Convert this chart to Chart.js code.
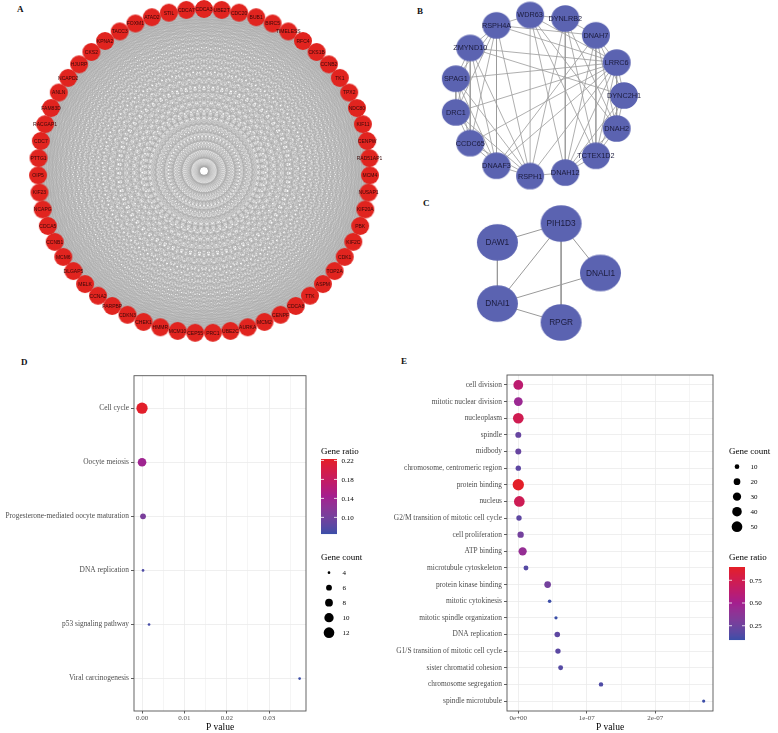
<!DOCTYPE html>
<html>
<head>
<meta charset="utf-8">
<script src="https://cdn.jsdelivr.net/npm/chart.js@4.4.1/dist/chart.umd.min.js"></script>
<style>
  body { margin: 0; background: #fff; width: 778px; height: 733px; position: relative; overflow: hidden; }
  canvas { position: absolute; }
  .tag { position: absolute; font: bold 9px "Liberation Serif", serif; line-height: 10px; color: #111; }
</style>
</head>
<body>
<div class="tag" style="left:17px;top:4px">A</div>
<div class="tag" style="left:417px;top:6px">B</div>
<div class="tag" style="left:423px;top:198px">C</div>
<div class="tag" style="left:21px;top:357px">D</div>
<div class="tag" style="left:401px;top:356px">E</div>

<canvas id="netA" width="410" height="350" style="left:0;top:0"></canvas>
<canvas id="netB" width="240" height="195" style="left:410px;top:0"></canvas>
<canvas id="netC" width="240" height="160" style="left:410px;top:195px"></canvas>
<canvas id="dotD" width="390" height="373" style="left:0;top:360px"></canvas>
<canvas id="dotE" width="388" height="373" style="left:390px;top:360px"></canvas>

<script>
// ---- A: hub genes, clockwise from the top ----
const genesA = ['CDCA3','UBE2T','CDC20','BUB1','BIRC5','TIMELESS','RFC4','CKS1B','CCNB2','TK1',
  'TPX2','NDC80','KIF11','CENPW','RAD51AP1','MCM4','NUSAP1','KIF20A','PBK','KIF2C',
  'CDK1','TOP2A','ASPM','TTK','CDCA8','CENPF','MCM2','AURKA','UBE2C','PRC1',
  'CEP55','MCM10','HMMR','CHEK1','CDKN3','PARPBP','CCNA2','MELK','DLGAP5','MCM6',
  'CCNB1','CDCA5','NCAPG','KIF23','OIP5','PTTG1','CDC7','RACGAP1','FAM83D','ANLN',
  'NCAPD2','HJURP','CKS2','KPNA2','TACC3','FOXM1','ATAD2','STIL','CDCA7'];
// every hub gene interacts with every other one
const edgesA = [];
genesA.forEach((p, i) => genesA.slice(i + 1).forEach(q => edgesA.push([p, q])));

// ---- B: cilia module ----
const genesB = ['WDR63','DYNLRB2','DNAH7','LRRC6','DYNC2H1','DNAH2','TCTEX1D2','DNAH12',
  'RSPH1','DNAAF3','CCDC65','DRC1','SPAG1','ZMYND10','RSPH4A'];
const edgesB = [
  ['RSPH4A','ZMYND10'],['RSPH4A','SPAG1'],['RSPH4A','DRC1'],['RSPH4A','CCDC65'],['RSPH4A','DNAAF3'],
  ['RSPH4A','RSPH1'],['RSPH4A','LRRC6'],['RSPH4A','DNAH7'],['RSPH4A','WDR63'],
  ['ZMYND10','SPAG1'],['ZMYND10','DRC1'],['ZMYND10','CCDC65'],['ZMYND10','DNAAF3'],['ZMYND10','RSPH1'],
  ['ZMYND10','LRRC6'],['ZMYND10','DYNC2H1'],
  ['SPAG1','DRC1'],['SPAG1','CCDC65'],['SPAG1','DNAAF3'],['SPAG1','RSPH1'],['SPAG1','LRRC6'],
  ['DRC1','CCDC65'],['DRC1','DNAAF3'],['DRC1','RSPH1'],['DRC1','LRRC6'],
  ['CCDC65','DNAAF3'],['CCDC65','RSPH1'],['CCDC65','LRRC6'],
  ['DNAAF3','RSPH1'],['DNAAF3','LRRC6'],['DNAAF3','DNAH7'],
  ['RSPH1','LRRC6'],['RSPH1','DNAH12'],['RSPH1','WDR63'],['RSPH1','DYNLRB2'],
  ['WDR63','DYNLRB2'],['WDR63','DNAH12'],['WDR63','TCTEX1D2'],['WDR63','DNAH2'],['WDR63','LRRC6'],
  ['DYNLRB2','DNAH12'],['DYNLRB2','TCTEX1D2'],['DYNLRB2','DNAH2'],['DYNLRB2','DNAH7'],
  ['DNAH7','LRRC6'],['DNAH7','DYNC2H1'],['DNAH7','DNAH2'],['DNAH7','TCTEX1D2'],['DNAH7','DNAH12'],
  ['LRRC6','DYNC2H1'],['LRRC6','DNAH2'],['LRRC6','TCTEX1D2'],['LRRC6','DNAH12'],
  ['DYNC2H1','DNAH2'],['DYNC2H1','TCTEX1D2'],['DYNC2H1','DNAH12'],
  ['DNAH2','TCTEX1D2'],['DNAH2','DNAH12'],['TCTEX1D2','DNAH12']
];

// ---- C: small module ----
const genesC = ['DNALI1','RPGR','DNAI1','DAW1','PIH1D3'];
const edgesC = [['DAW1','PIH1D3'],['DAW1','DNAI1'],['PIH1D3','DNAI1'],['PIH1D3','RPGR'],
  ['PIH1D3','DNALI1'],['DNALI1','DNAI1'],['DNAI1','RPGR']];

// ---- D: KEGG ----
const termsD = ['Cell cycle','Oocyte meiosis','Progesterone-mediated oocyte maturation',
  'DNA replication','p53 signaling pathway','Viral carcinogenesis'];
const pvalD  = [0.00000, 0.00001, 0.00024, 0.00024, 0.00166, 0.03720];
const countD = [13, 9, 6, 4, 4, 4];
const ratioD = [0.22, 0.14, 0.105, 0.075, 0.07, 0.066];
const xTicksD  = [0, 0.005, 0.01, 0.015, 0.02, 0.025, 0.03, 0.035];
const xLabelsD = ['0.00','','0.01','','0.02','','0.03',''];

// ---- E: GO ----
const termsE = ['cell division','mitotic nuclear division','nucleoplasm','spindle','midbody',
  'chromosome, centromeric region','protein binding','nucleus','G2/M transition of mitotic cell cycle',
  'cell proliferation','ATP binding','microtubule cytoskeleton','protein kinase binding',
  'mitotic cytokinesis','mitotic spindle organization','DNA replication',
  'G1/S transition of mitotic cell cycle','sister chromatid cohesion','chromosome segregation',
  'spindle microtubule'];
const pvalE  = [0, 0, 0, 0, 0, 0, 0, 1.5e-9, 1.0e-9, 3.4e-9, 6.3e-9, 1.12e-8, 4.28e-8,
  4.57e-8, 5.5e-8, 5.69e-8, 5.79e-8, 6.18e-8, 1.207e-7, 2.706e-7];
const countE = [42, 34, 50, 16, 16, 13, 56, 50, 13, 18, 30, 11, 20, 6, 5, 14, 13, 11, 9, 5];
const ratioE = [0.62, 0.45, 0.74, 0.22, 0.22, 0.19, 0.89, 0.73, 0.19, 0.27, 0.42, 0.16, 0.27,
  0.10, 0.09, 0.19, 0.18, 0.16, 0.14, 0.10];
const xTicksE  = [0, 5e-8, 1e-7, 1.5e-7, 2e-7, 2.5e-7];
const xLabelsE = ['0e+00','','1e-07','','2e-07',''];

Chart.defaults.animation = false;
Chart.defaults.font.family = '"Liberation Serif", "DejaVu Serif", serif';

// blue -> magenta -> red, mixed in Lab space
function toLab(hex) {
  const c = [1, 3, 5].map(i => parseInt(hex.substr(i, 2), 16) / 255)
    .map(u => u <= 0.04045 ? u / 12.92 : Math.pow((u + 0.055) / 1.055, 2.4));
  const X = (0.4124 * c[0] + 0.3576 * c[1] + 0.1805 * c[2]) / 0.95047;
  const Y = 0.2126 * c[0] + 0.7152 * c[1] + 0.0722 * c[2];
  const Z = (0.0193 * c[0] + 0.1192 * c[1] + 0.9505 * c[2]) / 1.08883;
  const f = t => t > 0.008856 ? Math.cbrt(t) : 7.787 * t + 16 / 116;
  return [116 * f(Y) - 16, 500 * (f(X) - f(Y)), 200 * (f(Y) - f(Z))];
}
function fromLab([L, a, b]) {
  const fy = (L + 16) / 116, fx = fy + a / 500, fz = fy - b / 200;
  const inv = t => t * t * t > 0.008856 ? t * t * t : (t - 16 / 116) / 7.787;
  const X = inv(fx) * 0.95047, Y = inv(fy), Z = inv(fz) * 1.08883;
  const lin = [3.2406 * X - 1.5372 * Y - 0.4986 * Z, -0.9689 * X + 1.8758 * Y + 0.0415 * Z,
    0.0557 * X - 0.2040 * Y + 1.0570 * Z];
  const rgb = lin.map(u => {
    u = Math.min(1, Math.max(0, u));
    return Math.round(255 * (u <= 0.0031308 ? 12.92 * u : 1.055 * Math.pow(u, 1 / 2.4) - 0.055));
  });
  return 'rgb(' + rgb.join(',') + ')';
}
function ramp(stops, vmin, vmax) {
  const labs = stops.map(toLab);
  return v => {
    const t = Math.min(1, Math.max(0, (v - vmin) / (vmax - vmin))) * (labs.length - 1);
    const k = Math.min(labs.length - 2, Math.floor(t)), f = t - k;
    return fromLab(labs[k].map((x, i) => x + (labs[k + 1][i] - x) * f));
  };
}
const rampStops = ['#3a4ea8', '#a31f8f', '#e41f26'];

function blob(rx, ry, color) {
  const c = document.createElement('canvas');
  c.width = Math.ceil(rx * 2) + 2;
  c.height = Math.ceil(ry * 2) + 2;
  const g = c.getContext('2d');
  g.fillStyle = color;
  g.beginPath();
  g.ellipse(c.width / 2, c.height / 2, rx, ry, 0, 0, Math.PI * 2);
  g.fill();
  return c;
}

const nodeLabels = {
  id: 'nodeLabels',
  afterDatasetsDraw(chart, args, opts) {
    const ctx = chart.ctx;
    const meta = chart.getDatasetMeta(0);
    const names = chart.data.datasets[0].names;
    ctx.save();
    ctx.font = opts.font;
    ctx.fillStyle = opts.color;
    ctx.textAlign = 'center';
    ctx.textBaseline = 'middle';
    meta.data.forEach((el, i) => ctx.fillText(names[i], el.x, el.y + 0.5));
    ctx.restore();
  }
};

function netChart(id, box, nodes, edges, look) {
  const pos = {};
  nodes.forEach((n, i) => {
    const a = (look.start + i * 360 / nodes.length) * Math.PI / 180;
    pos[n] = { x: look.cx + look.rx * Math.cos(a), y: look.cy + look.ry * Math.sin(a) };
  });
  const links = [];
  edges.forEach(([p, q]) => {
    links.push({ x: pos[p].x, y: pos[p].y }, { x: pos[q].x, y: pos[q].y }, { x: null, y: null });
  });
  new Chart(document.getElementById(id), {
    type: 'scatter',
    data: {
      datasets: [
        { names: nodes, data: nodes.map(n => ({ x: pos[n].x, y: pos[n].y })), order: 0,
          pointStyle: blob(look.nrx, look.nry, look.fill), pointRadius: look.nrx, clip: false },
        { type: 'line', data: links, order: 1, spanGaps: false, pointRadius: 0,
          borderColor: look.edge, borderWidth: look.edgeW, clip: false }
      ]
    },
    options: {
      responsive: false,
      layout: { padding: 0, autoPadding: false },
      plugins: { legend: { display: false }, tooltip: { enabled: false },
        nodeLabels: { font: look.font, color: look.text } },
      scales: {
        x: { type: 'linear', display: false, min: box.left, max: box.left + box.w },
        y: { type: 'linear', display: false, min: box.top, max: box.top + box.h, reverse: true }
      }
    },
    plugins: [nodeLabels]
  });
}

netChart('netA', { left: 0, top: 0, w: 410, h: 350 }, genesA, edgesA,
  { cx: 204, cy: 171, rx: 166, ry: 162, start: -90, nrx: 9, nry: 9, fill: '#e1241f',
    edge: '#a9a9a9', edgeW: 0.35, font: '5px "Liberation Sans", Arial, sans-serif', text: '#3a0808' });
netChart('netB', { left: 410, top: 0, w: 240, h: 195 }, genesB, edgesB,
  { cx: 539, cy: 95.5, rx: 85, ry: 81, start: -96, nrx: 14, nry: 13.3, fill: '#5b63b1',
    edge: '#9a9a9a', edgeW: 0.8, font: '7.3px "Liberation Sans", Arial, sans-serif', text: '#1b1b3d' });
netChart('netC', { left: 410, top: 195, w: 240, h: 160 }, genesC, edgesC,
  { cx: 543.5, cy: 273, rx: 57, ry: 52, start: 0, nrx: 20.5, nry: 18.3, fill: '#5b63b1',
    edge: '#9a9a9a', edgeW: 1, font: '8.3px "Liberation Sans", Arial, sans-serif', text: '#1b1b3d' });

function legendPlugin(L) {
  return {
    id: 'dotLegend',
    afterDraw(chart) {
      const ctx = chart.ctx, a = chart.chartArea;
      ctx.save();
      ctx.strokeStyle = '#555';
      ctx.lineWidth = 0.9;
      ctx.strokeRect(a.left, a.top, a.right - a.left, a.bottom - a.top);

      ctx.fillStyle = '#000';
      ctx.textAlign = 'left';
      ctx.textBaseline = 'middle';
      ctx.font = '9px "Liberation Serif", serif';
      ctx.fillText('Gene count', L.x, L.countTitleY);
      ctx.fillText('Gene ratio', L.x, L.ratioTitleY);

      ctx.font = '7px "Liberation Serif", serif';
      L.keys.forEach((c, i) => {
        const y = L.keyY0 + i * 15;
        ctx.beginPath();
        ctx.arc(L.x + 8, y, L.size(c) / 2, 0, Math.PI * 2);
        ctx.fill();
        ctx.fillText(String(c), L.x + 21.5, y + 0.5);
      });

      for (let y = 0; y < L.barH; y++) {
        ctx.fillStyle = L.color(L.vmax - (y + 0.5) / L.barH * (L.vmax - L.vmin));
        ctx.fillRect(L.x, L.barY + y, 16, 1.05);
      }
      ctx.strokeStyle = '#fff';
      ctx.lineWidth = 0.8;
      L.breaks.forEach((v, i) => {
        const y = L.barY + (L.vmax - v) / (L.vmax - L.vmin) * L.barH;
        ctx.beginPath();
        ctx.moveTo(L.x, y); ctx.lineTo(L.x + 3, y);
        ctx.moveTo(L.x + 13, y); ctx.lineTo(L.x + 16, y);
        ctx.stroke();
        ctx.fillStyle = '#000';
        ctx.fillText(L.breakLabels[i], L.x + 20.5, y + 0.5);
      });
      ctx.restore();
    }
  };
}

function dotChart(id, o) {
  const tickFont = { size: 7.4, family: '"Liberation Serif", serif' };
  new Chart(document.getElementById(id), {
    type: 'scatter',
    data: {
      datasets: [{
        data: o.pval.map((p, i) => ({ x: p, y: i })),
        pointRadius: c => o.size(o.count[c.dataIndex]) / 2,
        pointHoverRadius: c => o.size(o.count[c.dataIndex]) / 2,
        backgroundColor: c => o.color(o.ratio[c.dataIndex]),
        borderWidth: 0,
        clip: false
      }]
    },
    options: {
      responsive: false,
      layout: { padding: o.pad, autoPadding: false },
      plugins: { legend: { display: false }, tooltip: { enabled: false } },
      scales: {
        x: {
          type: 'linear', min: o.xmin, max: o.xmax,
          afterBuildTicks: s => { s.ticks = o.xTicks.map(v => ({ value: v })); },
          afterFit: s => { s.height = 22; },
          ticks: { callback: (v, i) => o.xLabels[i], autoSkip: false, maxRotation: 0,
            padding: 0.5, color: '#4d4d4d', font: { size: 7, family: tickFont.family } },
          grid: { color: '#ebebeb', lineWidth: c => o.xLabels[c.index] ? 0.8 : 0.5,
            tickLength: 2.5, tickColor: c => o.xLabels[c.index] ? '#333' : 'rgba(0,0,0,0)' },
          border: { display: false },
          title: { display: true, text: 'P value', color: '#000', padding: 0,
            font: { size: 9.5, family: tickFont.family } }
        },
        y: {
          type: 'linear', min: -0.6, max: o.terms.length - 0.4, reverse: true,
          afterBuildTicks: s => { s.ticks = o.terms.map((t, i) => ({ value: i })); },
          afterFit: s => { s.width = o.yWidth; },
          ticks: { callback: v => o.terms[v], autoSkip: false, padding: 2, color: '#4d4d4d', font: tickFont },
          grid: { color: '#ebebeb', lineWidth: 0.8, tickLength: 3, tickColor: '#333' },
          border: { display: false }
        }
      }
    },
    plugins: [legendPlugin(o.legend)]
  });
}

const colorD = ramp(rampStops, 0.065, 0.223);
const sizeD = c => Math.sqrt(13.3 * c - 46);
dotChart('dotD', {
  terms: termsD, pval: pvalD, count: countD, ratio: ratioD, xTicks: xTicksD, xLabels: xLabelsD,
  xmin: -0.00189, xmax: 0.0387, yWidth: 134, pad: { top: 15.7, right: 84, left: 0, bottom: 0 },
  size: sizeD, color: colorD,
  legend: { x: 321, ratioTitleY: 92, countTitleY: 198, keyY0: 212.7, keys: [4, 6, 8, 10, 12], size: sizeD,
    barY: 99, barH: 75, vmin: 0.065, vmax: 0.223, color: colorD,
    breaks: [0.22, 0.18, 0.14, 0.10], breakLabels: ['0.22', '0.18', '0.14', '0.10'] }
});

const colorE = ramp(rampStops, 0.093, 0.896);
const sizeE = c => Math.sqrt(2.31 * c - 1.2);
dotChart('dotE', {
  terms: termsE, pval: pvalE, count: countE, ratio: ratioE, xTicks: xTicksE, xLabels: xLabelsE,
  xmin: -1.65e-8, xmax: 2.842e-7, yWidth: 117, pad: { top: 15, right: 65, left: 0, bottom: 0 },
  size: sizeE, color: colorE,
  legend: { x: 339, countTitleY: 92, ratioTitleY: 198, keyY0: 106.7, keys: [10, 20, 30, 40, 50], size: sizeE,
    barY: 207, barH: 73, vmin: 0.093, vmax: 0.896, color: colorE,
    breaks: [0.75, 0.5, 0.25], breakLabels: ['0.75', '0.50', '0.25'] }
});
</script>
</body>
</html>
